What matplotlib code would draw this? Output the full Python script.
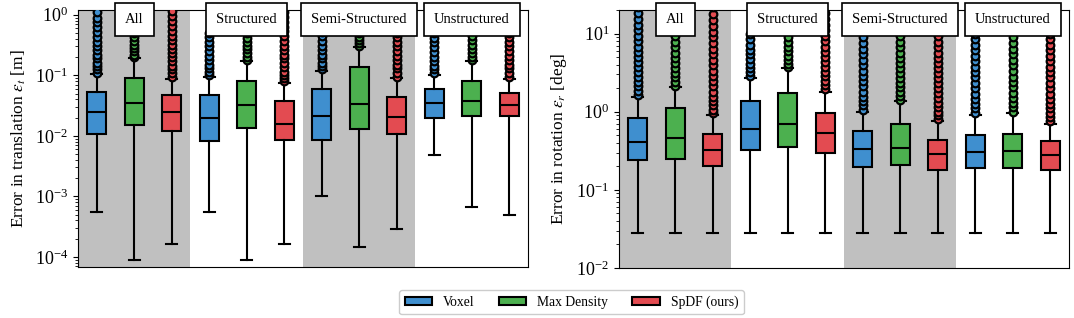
import numpy as np
import matplotlib
matplotlib.use("Agg")
import matplotlib.pyplot as plt
from matplotlib.patches import Patch

plt.rcParams.update({
    "font.family": ["Liberation Serif", "DejaVu Serif"],
    "mathtext.fontset": "stix",
    "font.size": 10.5,
})

groups = ["All", "Structured", "Semi-Structured", "Unstructured"]
methods = ["Voxel", "Max Density", "SpDF (ours)"]
colors = ["#3f8fcf", "#4cb04f", "#e34b51"]

# translation error [m], boxes ordered group by group, method inside group
t_q1 = [0.0107, 0.0150, 0.0121, 0.0082, 0.0137, 0.0085, 0.0086, 0.0129, 0.0108, 0.0199, 0.0209, 0.0209]
t_med = [0.0243, 0.0347, 0.0243, 0.0196, 0.0321, 0.0156, 0.0214, 0.0334, 0.0201, 0.0347, 0.0379, 0.0325]
t_q3 = [0.052, 0.0898, 0.0464, 0.0464, 0.082, 0.037, 0.059, 0.136, 0.0446, 0.0605, 0.081, 0.0507]
t_lo = [5.5e-4, 9.0e-5, 1.64e-4, 5.5e-4, 9.0e-5, 1.64e-4, 1.03e-3, 1.48e-4, 2.9e-4, 4.85e-3, 6.6e-4, 4.9e-4]
t_hi = [0.105, 0.19, 0.088, 0.093, 0.17, 0.075, 0.118, 0.29, 0.09, 0.1, 0.17, 0.088]
t_fliers = [
    [0.11, 0.125, 0.14, 0.16, 0.19, 0.22, 0.26, 0.3, 0.36, 0.43, 0.52, 0.62, 0.75, 0.9, 1.1],
    [0.2, 0.22, 0.25, 0.28, 0.32, 0.37, 0.43, 0.5, 0.6],
    [0.095, 0.11, 0.125, 0.145, 0.17, 0.2, 0.23, 0.27, 0.32, 0.38, 0.45, 0.54, 0.65, 0.8, 0.95, 1.15],
    [0.1, 0.115, 0.13, 0.15, 0.18, 0.21, 0.25, 0.3, 0.36, 0.43, 0.5],
    [0.18, 0.2, 0.23, 0.27, 0.31, 0.36, 0.42, 0.5],
    [0.08, 0.09, 0.1, 0.115, 0.135, 0.16, 0.19, 0.22, 0.26, 0.31, 0.37, 0.44, 0.53, 0.64, 0.77, 0.92, 1.1],
    [0.125, 0.14, 0.16, 0.19, 0.22, 0.26, 0.31, 0.37, 0.44, 0.52],
    [0.31, 0.34, 0.38, 0.43, 0.5],
    [0.095, 0.11, 0.13, 0.15, 0.18, 0.21, 0.25, 0.3, 0.36, 0.43, 0.5],
    [0.11, 0.125, 0.145, 0.17, 0.2, 0.24, 0.29, 0.35, 0.42, 0.5],
    [0.18, 0.2, 0.23, 0.27, 0.32, 0.38, 0.45],
    [0.095, 0.11, 0.13, 0.15, 0.18, 0.21, 0.25, 0.3, 0.36, 0.43, 0.5],
]

# rotation error [deg]
r_q1 = [0.238, 0.25, 0.2, 0.32, 0.35, 0.3, 0.195, 0.205, 0.18, 0.19, 0.19, 0.18]
r_med = [0.41, 0.46, 0.32, 0.6, 0.69, 0.54, 0.336, 0.345, 0.29, 0.304, 0.313, 0.28]
r_q3 = [0.84, 1.12, 0.52, 1.36, 1.74, 0.96, 0.565, 0.69, 0.44, 0.507, 0.52, 0.416]
r_lo = [0.028, 0.028, 0.028, 0.028, 0.028, 0.028, 0.028, 0.028, 0.028, 0.028, 0.028, 0.028]
r_hi = [1.55, 2.05, 0.9, 2.7, 3.6, 1.8, 1.0, 1.35, 0.77, 0.9, 0.97, 0.7]
r_fliers = [
    [1.65, 1.85, 2.1, 2.4, 2.8, 3.2, 3.7, 4.3, 5.0, 5.8, 6.8, 8.0, 9.4, 11, 13, 15.5, 18.5, 22],
    [2.15, 2.4, 2.75, 3.1, 3.6, 4.2, 4.9, 5.7, 6.7, 7.9, 9.3],
    [0.95, 1.05, 1.2, 1.35, 1.55, 1.8, 2.1, 2.45, 2.85, 3.3, 3.9, 4.6, 5.4, 6.4, 7.6, 9.0, 10.6, 12.5, 15, 18, 22],
    [2.85, 3.2, 3.6, 4.1, 4.7, 5.4, 6.2, 7.2, 8.4, 9.8],
    [3.7, 4.1, 4.6, 5.2, 5.9, 6.8, 7.8, 9.0],
    [1.95, 2.2, 2.5, 2.85, 3.25, 3.7, 4.3, 5.0, 5.8, 6.8, 8.0, 9.4, 11, 13, 15.5, 18.5, 22],
    [1.05, 1.2, 1.35, 1.55, 1.8, 2.1, 2.45, 2.85, 3.3, 3.9, 4.6, 5.4, 6.4, 7.6, 9.0],
    [1.4, 1.6, 1.8, 2.05, 2.35, 2.7, 3.1, 3.6, 4.2, 4.9, 5.7, 6.7, 7.9, 9.3],
    [0.8, 0.9, 1.0, 1.15, 1.3, 1.5, 1.75, 2.0, 2.3, 2.7, 3.1, 3.6, 4.2, 4.9, 5.7, 6.7, 7.9, 9.3],
    [0.95, 1.1, 1.25, 1.45, 1.7, 2.0, 2.35, 2.75, 3.2, 3.75, 4.4, 5.2, 6.1, 7.2, 8.5, 10],
    [1.0, 1.15, 1.3, 1.5, 1.75, 2.05, 2.4, 2.8, 3.3, 3.9, 4.6, 5.4, 6.4, 7.6, 9.0],
    [0.75, 0.85, 0.95, 1.1, 1.25, 1.45, 1.7, 2.0, 2.35, 2.75, 3.2, 3.75, 4.4, 5.2, 6.1, 7.2, 8.5, 10],
]


def draw_panel(axis, q1, med, q3, lo, hi, fliers, ylim, ylabel):
    """Grouped box plot with shaded groups and boxed group names."""
    for i in [0, 2]:
        axis.axvspan(3 * i - 0.5, 3 * i + 2.5, color="#c0c0c0", lw=0, zorder=0)
    for i in range(len(med)):
        stats = [{"q1": q1[i], "med": med[i], "q3": q3[i],
                  "whislo": lo[i], "whishi": hi[i], "fliers": fliers[i]}]
        col = colors[i % 3]
        axis.bxp(
            stats,
            positions=[i],
            widths=0.5,
            capwidths=0.3,
            patch_artist=True,
            boxprops={"facecolor": col, "edgecolor": "black", "linewidth": 1.5},
            medianprops={"color": "black", "linewidth": 1.5},
            whiskerprops={"color": "black", "linewidth": 1.5},
            capprops={"color": "black", "linewidth": 1.5},
            flierprops={"marker": "o", "markersize": 5.5, "markerfacecolor": col,
                        "markeredgecolor": "black", "markeredgewidth": 1.6},
            zorder=3,
        )
    axis.set_yscale("log")
    axis.set_ylim(ylim)
    axis.set_xlim(-0.5, 11.5)
    axis.set_xticks([])
    axis.set_ylabel(ylabel, fontsize=12.5, labelpad=5)
    axis.tick_params(axis="y", labelsize=13)
    for g, name in enumerate(groups):
        axis.text(
            3 * g + 1, 0.963, name,
            transform=axis.get_xaxis_transform(),
            ha="center", va="center", fontsize=10.5, zorder=10, clip_on=False,
            bbox={"boxstyle": "square,pad=0.7", "facecolor": "white",
                  "edgecolor": "black", "linewidth": 1.2},
        )


fig = plt.figure(figsize=(10.74, 3.18), dpi=100)
ax1 = fig.add_axes([0.0726, 0.1604, 0.419, 0.8082])
ax2 = fig.add_axes([0.5763, 0.1572, 0.419, 0.8114])

draw_panel(ax1, t_q1, t_med, t_q3, t_lo, t_hi, t_fliers, (6.8e-5, 1.2),
           r"Error in translation $\varepsilon_t$ [m]")
draw_panel(ax2, r_q1, r_med, r_q3, r_lo, r_hi, r_fliers, (1e-2, 20),
           r"Error in rotation $\varepsilon_r$ [deg]")

handles = [Patch(facecolor=c, edgecolor="black", linewidth=1.5, label=m)
           for c, m in zip(colors, methods)]
fig.legend(handles=handles, loc="center", bbox_to_anchor=(0.532, 0.05), ncol=3,
           fontsize=9.8, handlelength=2.0, handleheight=0.5, columnspacing=1.8,
           fancybox=True, framealpha=1, edgecolor="#cccccc")

fig.savefig("out.png", dpi=100)
